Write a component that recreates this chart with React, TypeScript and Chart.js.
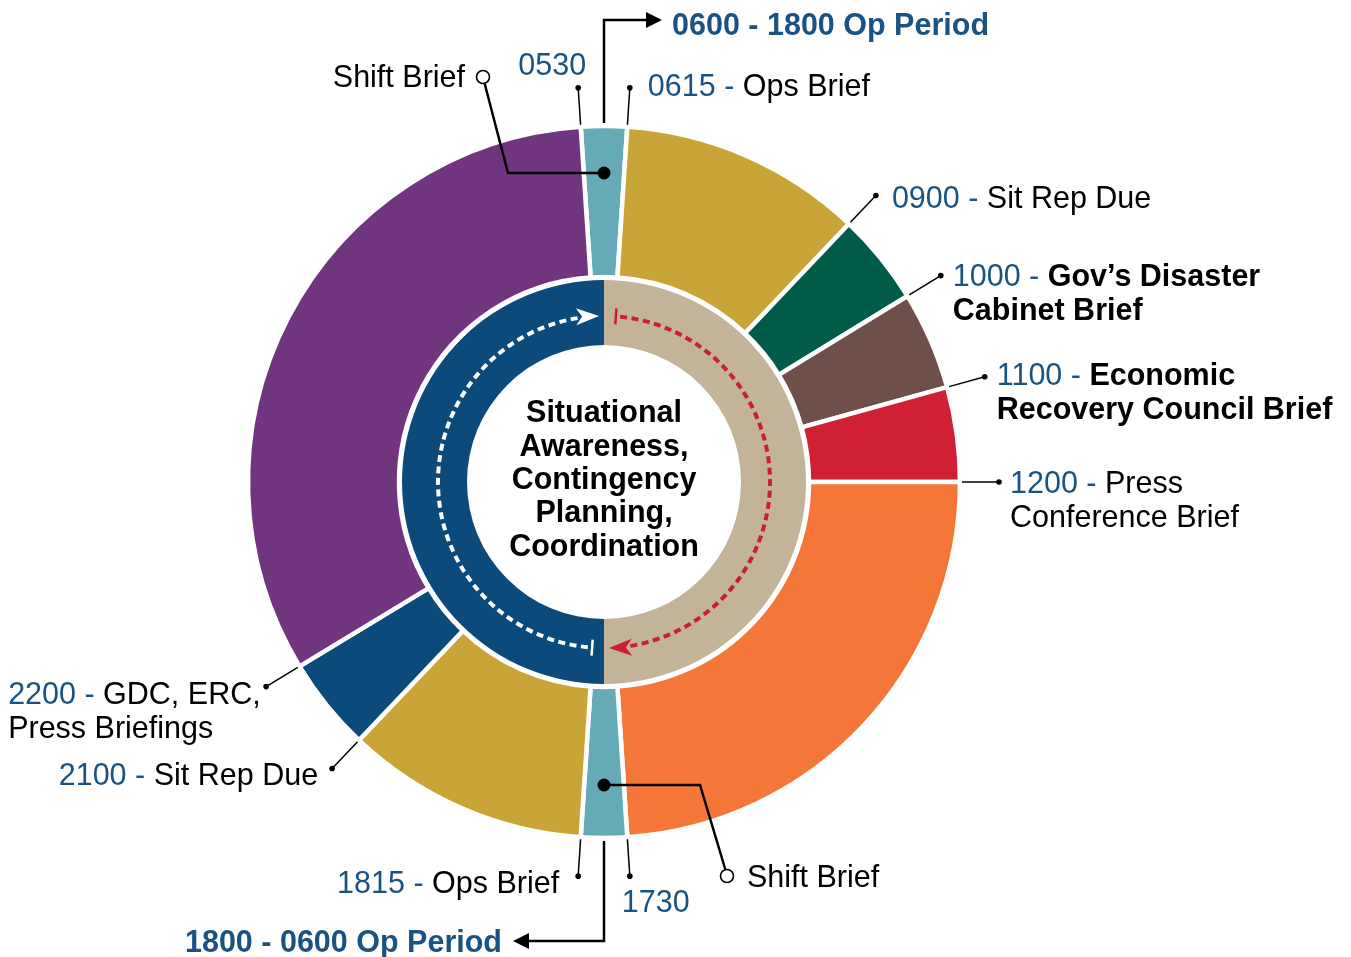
import React, { useEffect, useRef } from 'react';
import { Chart, registerables } from 'chart.js';

Chart.register(...registerables);

// ---- Data (hours of the 24h clock, starting at 05:45, clockwise from top = 06:00) ----
const outerSegments = [
  'Shift change 0545-0615', 'Ops 0615-0854', 'Sit Rep 0854-0954', "Gov's Cabinet 0954-1058",
  'ERC 1058-1200', 'Press 1200-1745', 'Shift change 1745-1815', 'Ops 1815-2053',
  'Sit Rep 2053-2155', 'Night 2155-0545',
];
const outerHours = [0.5, 2.65, 1.0, 1.07, 1.03, 5.75, 0.5, 2.65, 1.02, 7.83];
const outerColors = ['#65abb7', '#c9a538', '#005b49', '#6e4f4a', '#d02033', '#f47739', '#65abb7', '#c9a538', '#0b4b7b', '#71347e'];
const outerStartHour = -0.25; // 05:45 relative to 06:00 at top

const innerSegments = ['0600 - 1800 Op Period', '1800 - 0600 Op Period'];
const innerHours = [12, 12];
const innerColors = ['#c3b398', '#0b4a7b'];

const centerLines = ['Situational', 'Awareness,', 'Contingency', 'Planning,', 'Coordination'];

type Seg = [string, 'b' | 'k', boolean];
// label edge = index of outer segment whose start boundary the label points to
const labelEdges = [0, 1, 2, 3, 4, 5, 6, 7, 8, 9];
const labelTexts: Seg[][][] = [
  [[['0530', 'b', false]]],
  [[['0615 - ', 'b', false], ['Ops Brief', 'k', false]]],
  [[['0900 - ', 'b', false], ['Sit Rep Due', 'k', false]]],
  [[['1000 - ', 'b', false], ['Gov\u2019s Disaster', 'k', true]], [['Cabinet Brief', 'k', true]]],
  [[['1100 - ', 'b', false], ['Economic', 'k', true]], [['Recovery Council Brief', 'k', true]]],
  [[['1200 - ', 'b', false], ['Press', 'k', false]], [['Conference Brief', 'k', false]]],
  [[['1730', 'b', false]]],
  [[['1815 - ', 'b', false], ['Ops Brief', 'k', false]]],
  [[['2100 - ', 'b', false], ['Sit Rep Due', 'k', false]]],
  [[['2200 - ', 'b', false], ['GDC, ERC,', 'k', false]], [['Press Briefings', 'k', false]]],
];
// text offsets from the leader dot
const labelOffsets: [number, number, 'left' | 'right'][] = [
  [8, -21, 'right'],
  [18, 0, 'left'],
  [16, 4, 'left'],
  [12, 2, 'left'],
  [12, 0, 'left'],
  [11, 3, 'left'],
  [-8, 27, 'left'],
  [-19, 8, 'right'],
  [-14, 8, 'right'],
  [-258, 9, 'left'],
];

const periodLabels = ['0600 - 1800 Op Period', '1800 - 0600 Op Period'];
const shiftLabel = 'Shift Brief';

const BLUE = '#1a5283';
const FONT = '"Liberation Sans", Arial, "Helvetica Neue", sans-serif';
const FS = 30.5;

function drawRich(ctx: CanvasRenderingContext2D, segs: Seg[], x: number, y: number, align: 'left' | 'right') {
  let total = 0;
  const widths: number[] = [];
  for (const s of segs) {
    ctx.font = `${s[2] ? 'bold ' : ''}${FS}px ${FONT}`;
    const w = ctx.measureText(s[0]).width;
    widths.push(w);
    total += w;
  }
  let cx = align === 'right' ? x - total : x;
  ctx.textAlign = 'left';
  ctx.textBaseline = 'middle';
  segs.forEach((s, i) => {
    ctx.font = `${s[2] ? 'bold ' : ''}${FS}px ${FONT}`;
    ctx.fillStyle = s[1] === 'b' ? BLUE : '#000';
    ctx.fillText(s[0], cx, y);
    cx += widths[i];
  });
}

const rad = (d: number) => (d * Math.PI) / 180;

function arcArrow(ctx: CanvasRenderingContext2D, cx: number, cy: number, r: number, tipDeg: number, color: string) {
  const a = rad(tipDeg);
  const tx = cx + r * Math.cos(a), ty = cy + r * Math.sin(a);
  const dx = -Math.sin(a), dy = Math.cos(a);
  const nx = Math.cos(a), ny = Math.sin(a);
  const L = 23, W = 8.5, notch = 6;
  const bx = tx - L * dx, by = ty - L * dy;
  ctx.save();
  ctx.fillStyle = color;
  ctx.beginPath();
  ctx.moveTo(tx, ty);
  ctx.lineTo(bx + W * nx, by + W * ny);
  ctx.lineTo(tx - (L - notch) * dx, ty - (L - notch) * dy);
  ctx.lineTo(bx - W * nx, by - W * ny);
  ctx.closePath();
  ctx.fill();
  ctx.restore();
}

function arcTick(ctx: CanvasRenderingContext2D, cx: number, cy: number, r: number, deg: number, color: string) {
  const a = rad(deg);
  ctx.save();
  ctx.strokeStyle = color;
  ctx.lineWidth = 2.5;
  ctx.beginPath();
  ctx.moveTo(cx + (r - 8) * Math.cos(a), cy + (r - 8) * Math.sin(a));
  ctx.lineTo(cx + (r + 8) * Math.cos(a), cy + (r + 8) * Math.sin(a));
  ctx.stroke();
  ctx.restore();
}

function dashedArc(ctx: CanvasRenderingContext2D, cx: number, cy: number, r: number, d1: number, d2: number, color: string) {
  ctx.save();
  ctx.strokeStyle = color;
  ctx.lineWidth = 4;
  ctx.setLineDash([7, 4.5]);
  ctx.beginPath();
  ctx.arc(cx, cy, r, rad(d1), rad(d2), false);
  ctx.stroke();
  ctx.restore();
}

const annotPlugin = {
  id: 'annot',
  afterDatasetsDraw(chart: any) {
    const ctx: CanvasRenderingContext2D = chart.ctx;
    const arcs = chart.getDatasetMeta(0).data as any[];
    if (!arcs.length) return;
    const cx = arcs[0].x, cy = arcs[0].y, R = arcs[0].outerRadius;

    // dotted flow arcs in inner ring
    const rf = 166;
    arcTick(ctx, cx, cy, rf, 94.1, '#fff');
    dashedArc(ctx, cx, cy, rf, 95.6, 262, '#fff');
    arcArrow(ctx, cx, cy, rf, 268.3, '#fff');
    const red = '#c8202f';
    arcTick(ctx, cx, cy, rf, 274.1, red);
    dashedArc(ctx, cx, cy, rf, 275.6, 442, red);
    arcArrow(ctx, cx, cy, rf, 448.3, red);

    // center text
    ctx.save();
    ctx.fillStyle = '#000';
    ctx.font = `bold 30.5px ${FONT}`;
    ctx.textAlign = 'center';
    ctx.textBaseline = 'middle';
    centerLines.forEach((t, i) => ctx.fillText(t, cx, cy - 68 + i * 33.3));
    ctx.restore();

    // leader lines and labels
    labelEdges.forEach((edge, i) => {
      const a = arcs[edge].startAngle;
      const x1 = cx + (R + 2) * Math.cos(a), y1 = cy + (R + 2) * Math.sin(a);
      const x2 = cx + (R + 39) * Math.cos(a), y2 = cy + (R + 39) * Math.sin(a);
      ctx.save();
      ctx.strokeStyle = '#000';
      ctx.lineWidth = 1.5;
      ctx.beginPath();
      ctx.moveTo(x1, y1);
      ctx.lineTo(x2, y2);
      ctx.stroke();
      ctx.fillStyle = '#000';
      ctx.beginPath();
      ctx.arc(x2, y2, 2.8, 0, Math.PI * 2);
      ctx.fill();
      const [ox, oy, al] = labelOffsets[i];
      labelTexts[i].forEach((line, j) => drawRich(ctx, line, x2 + ox, y2 + oy + j * 34, al));
      ctx.restore();
    });

    // Op period arrows
    ctx.save();
    ctx.strokeStyle = '#000';
    ctx.fillStyle = '#000';
    ctx.lineWidth = 2.5;
    ctx.beginPath();
    ctx.moveTo(cx, cy - R - 3);
    ctx.lineTo(cx, cy - 462);
    ctx.lineTo(cx + 46, cy - 462);
    ctx.stroke();
    ctx.beginPath();
    ctx.moveTo(cx + 58, cy - 462);
    ctx.lineTo(cx + 42, cy - 470);
    ctx.lineTo(cx + 42, cy - 454);
    ctx.closePath();
    ctx.fill();
    ctx.beginPath();
    ctx.moveTo(cx, cy + R + 3);
    ctx.lineTo(cx, cy + 459);
    ctx.lineTo(cx - 79, cy + 459);
    ctx.stroke();
    ctx.beginPath();
    ctx.moveTo(cx - 91, cy + 459);
    ctx.lineTo(cx - 75, cy + 451);
    ctx.lineTo(cx - 75, cy + 467);
    ctx.closePath();
    ctx.fill();
    ctx.restore();
    ctx.save();
    ctx.fillStyle = BLUE;
    ctx.font = `bold ${FS}px ${FONT}`;
    ctx.textBaseline = 'middle';
    ctx.textAlign = 'left';
    ctx.fillText(periodLabels[0], cx + 68, cy - 455);
    ctx.textAlign = 'right';
    ctx.fillText(periodLabels[1], cx - 102, cy + 462);
    ctx.restore();

    // Shift brief callouts
    const callout = (pts: [number, number][], circ: [number, number], textPos: [number, number], align: 'left' | 'right') => {
      ctx.save();
      ctx.strokeStyle = '#000';
      ctx.lineWidth = 2.5;
      ctx.beginPath();
      ctx.moveTo(pts[0][0], pts[0][1]);
      for (let k = 1; k < pts.length; k++) ctx.lineTo(pts[k][0], pts[k][1]);
      ctx.stroke();
      ctx.fillStyle = '#000';
      ctx.beginPath();
      ctx.arc(pts[0][0], pts[0][1], 6.5, 0, Math.PI * 2);
      ctx.fill();
      ctx.fillStyle = '#fff';
      ctx.lineWidth = 1.6;
      ctx.beginPath();
      ctx.arc(circ[0], circ[1], 6.5, 0, Math.PI * 2);
      ctx.fill();
      ctx.stroke();
      ctx.fillStyle = '#000';
      ctx.font = `${FS}px ${FONT}`;
      ctx.textBaseline = 'middle';
      ctx.textAlign = align;
      ctx.fillText(shiftLabel, textPos[0], textPos[1]);
      ctx.restore();
    };
    callout([[cx, cy - 309], [cx - 96, cy - 309], [cx - 119.5, cy - 399]], [cx - 121, cy - 405], [cx - 139, cy - 403], 'right');
    callout([[cx, cy + 303], [cx + 96, cy + 303], [cx + 121.5, cy + 388]], [cx + 123, cy + 394], [cx + 143, cy + 397], 'left');
  },
};

export default function App() {
  const ref = useRef<HTMLCanvasElement | null>(null);
  useEffect(() => {
    if (!ref.current) return;
    const chart = new Chart(ref.current, {
      type: 'doughnut',
      data: {
        labels: outerSegments,
        datasets: [
          {
            label: 'Daily schedule',
            data: outerHours,
            backgroundColor: outerColors,
            borderColor: '#ffffff',
            borderWidth: 4.5,
            weight: 151,
            rotation: outerStartHour * 15,
          } as any,
          {
            label: 'gap',
            data: [1],
            backgroundColor: ['rgba(0,0,0,0)'],
            borderWidth: 0,
            weight: 3,
          } as any,
          {
            label: 'Op periods',
            data: innerHours,
            backgroundColor: innerColors,
            borderWidth: 0,
            weight: 65,
            rotation: 0,
          } as any,
        ],
      },
      options: {
        responsive: false,
        animation: false,
        events: [],
        radius: 356,
        cutout: '38.48%',
        layout: { padding: { left: 0, right: 143, top: 7, bottom: 0 } },
        plugins: { legend: { display: false }, tooltip: { enabled: false } },
      } as any,
      plugins: [annotPlugin],
    });
    return () => chart.destroy();
  }, []);
  return (
    <div style={{ position: 'absolute', left: 0, top: 0, width: 1351, height: 957, background: '#fff' }}>
      <canvas ref={ref} width={1351} height={957} style={{ display: 'block' }} />
    </div>
  );
}
